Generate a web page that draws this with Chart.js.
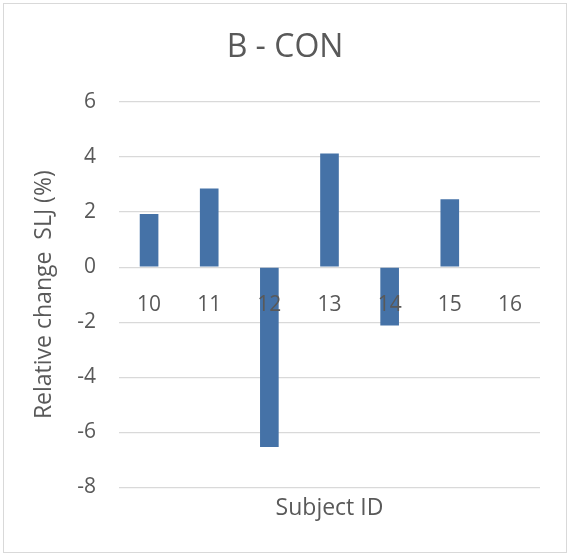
<!DOCTYPE html>
<html>
<head>
<meta charset="utf-8">
<script src="https://cdn.jsdelivr.net/npm/chart.js@4"></script>
<style>
  html, body { margin: 0; padding: 0; background: #fff; }
  #wrap { width: 570px; height: 556px; }
</style>
</head>
<body>
<div id="wrap"><canvas id="myChart" width="570" height="556"></canvas></div>
<script>
var subjects = ['10', '11', '12', '13', '14', '15', '16'];
var relChange = [1.93, 2.86, -6.53, 4.13, -2.12, 2.47, 0];
var yTicks = [-8, -6, -4, -2, 0, 2, 4, 6];

var grey = '#595959';
var fontFamily = "'Open Sans', sans-serif";

// white background and the thin frame round the chart
var framePlugin = {
    id: 'frame',
    beforeDraw: function (chart) {
        var c = chart.ctx;
        c.save();
        c.fillStyle = '#fff';
        c.fillRect(0, 0, chart.width, chart.height);
        c.strokeStyle = '#d9d9d9';
        c.lineWidth = 1;
        c.strokeRect(3.5, 3.5, 563, 549);
        c.restore();
    }
};

var ctx = document.getElementById('myChart');
var myBarChart = new Chart(ctx, {
    type: 'bar',
    data: {
        labels: subjects,
        datasets: [{
            label: 'B - CON',
            data: relChange,
            backgroundColor: '#4572a7',
            categoryPercentage: 0.62,
            barPercentage: 0.5
        }]
    },
    options: {
        responsive: false,
        animation: false,
        layout: {
            padding: { top: 10, left: 20, right: 20, bottom: 10 }
        },
        plugins: {
            legend: { display: false },
            tooltip: { enabled: false },
            title: {
                display: true,
                text: 'B - CON',
                color: grey,
                font: { family: fontFamily, size: 32, weight: 'normal' },
                padding: { top: 19, bottom: 34.6 }
            },
            subtitle: {
                display: true,
                position: 'bottom',
                fullSize: false,
                text: 'Subject ID',
                color: grey,
                font: { family: fontFamily, size: 23, weight: 'normal' },
                padding: { top: 7, bottom: 24 }
            }
        },
        scales: {
            x: {
                position: { y: 0 },
                grid: { display: false },
                border: { display: false },
                ticks: {
                    z: 1, // labels sit on top of the bars
                    color: grey,
                    padding: 17,
                    font: { family: fontFamily, size: 21 }
                },
                afterFit: function (scale) { scale.height = 0; }
            },
            y: {
                min: -8,
                max: 6,
                afterBuildTicks: function (scale) {
                    scale.ticks = yTicks.map(function (v) { return { value: v }; });
                },
                grid: { color: '#d9d9d9', lineWidth: 1.3, drawTicks: false },
                border: { display: false },
                ticks: {
                    color: grey,
                    padding: 23,
                    font: { family: fontFamily, size: 21 }
                },
                title: {
                    display: true,
                    text: 'Relative change  SLJ (%)',
                    color: grey,
                    font: { family: fontFamily, size: 23 },
                    padding: { top: 11, bottom: 0 }
                },
                afterFit: function (scale) { scale.width = 99; }
            },
            // empty right-hand strip so the plot ends where the reference does
            yRight: {
                position: 'right',
                grid: { display: false },
                border: { display: false },
                ticks: { display: false },
                afterFit: function (scale) { scale.width = 10; }
            }
        }
    },
    plugins: [framePlugin]
});
</script>
</body>
</html>
